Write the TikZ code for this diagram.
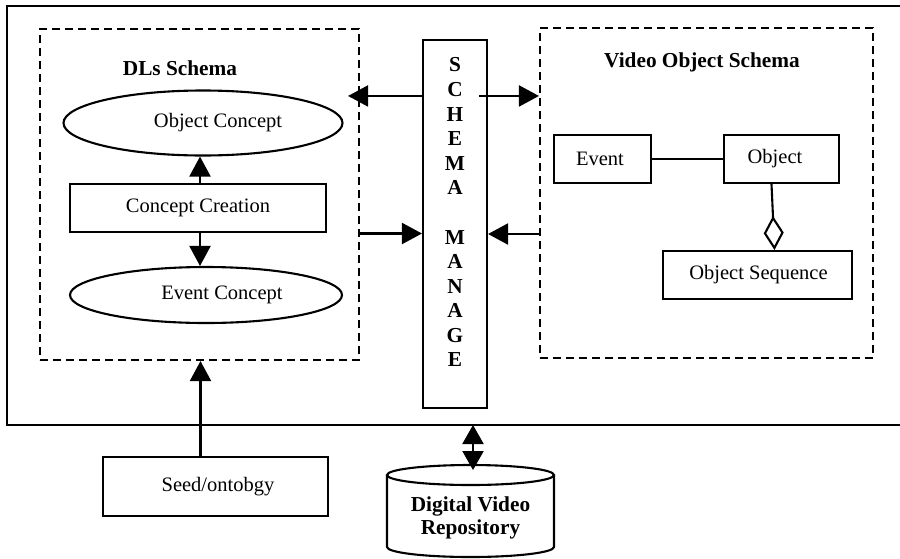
\documentclass[tikz,border=0pt]{standalone}
\usepackage{fontspec}
\setmainfont{Liberation Serif}
\usetikzlibrary{arrows.meta,shapes.geometric}
\begin{document}
\begin{tikzpicture}[x=1pt,y=-1pt,
  lw/.style={line width=2.1pt},
  rbox/.style={draw,lw,rectangle,inner sep=0pt},
  ell/.style={draw,lw,ellipse,inner sep=0pt},
  dbox/.style={draw,lw,dash pattern=on 8pt off 5pt,inner sep=0pt},
  txt/.style={font=\fontsize{20.5}{24}\selectfont,inner sep=0pt},
  btxt/.style={font=\bfseries\fontsize{21.3}{23}\selectfont,inner sep=0pt},
  arr/.style={lw,-{Triangle[length=20pt,width=21pt]}},
  darr/.style={lw,{Triangle[length=19pt,width=21pt]}-{Triangle[length=19pt,width=21pt]}}]
\useasboundingbox (0,0) rectangle (900,558);

% outer frame (open to the right)
\draw[lw] (905,6) -- (7,6) -- (7,425) -- (905,425);
\coordinate (fb) at (473,425);

% DLs schema
\node[dbox,minimum width=319pt,minimum height=331pt] (dls) at (199.5,194.5) {};
\node[btxt] (dlst) at (180,68) {DLs Schema};
\node[ell,minimum width=279pt,minimum height=65pt] (oc) at (203,123) {};
\node[txt] (oct) at (218,123) {Object Concept};
\node[rbox,minimum width=256pt,minimum height=48pt] (cc) at (198,208) {};
\node[txt] (cct) at (198,208) {Concept Creation};
\node[ell,minimum width=272pt,minimum height=56pt] (ec) at (206,295) {};
\node[txt] (ect) at (222,295) {Event Concept};

\draw[arr] ([xshift=2pt]cc.north) -- ([xshift=2pt]cc.north |- oc.south);
\draw[arr] ([xshift=2pt]cc.south) -- ([xshift=2pt]cc.south |- ec.north);

% seed
\node[rbox,minimum width=225pt,minimum height=59pt] (seed) at (215.5,486.5) {};
\node[txt] (seedt) at (218,487) {Seed/ontobgy};
\draw[arr] ([xshift=-15pt]seed.north) -- ([xshift=-15pt]seed.north |- dls.south);

% schema manage
\node[rbox,minimum width=64pt,minimum height=368pt] (sm) at (455,224) {};
\foreach \l [count=\i] in {S,C,H,E,M,A,,M,A,N,A,G,E}
  \node[btxt] (L\i) at (455,{65+(\i-1)*24.58}) {\l};

% video object schema
\node[dbox,minimum width=333pt,minimum height=330pt] (vos) at (706.5,193) {};
\node[btxt] (vost) at (702,62) {Video Object Schema};
\node[rbox,minimum width=97pt,minimum height=48pt] (ev) at (602.5,159) {};
\node[txt] (evt) at (600,159) {Event};
\node[rbox,minimum width=115pt,minimum height=48pt] (ob) at (781.5,159) {};
\node[txt] (obt) at (775,159) {Object};
\node[rbox,minimum width=189pt,minimum height=48pt] (seq) at (757.5,275) {};
\node[txt] (seqt) at (758.5,275) {Object Sequence};
\draw[lw] (ev) -- (ob);
\draw[lw,-{Diamond[open,length=34pt,width=20pt]}] ([xshift=-10pt]ob.south) -- ([xshift=17pt]seq.north);

% connections to schema manage
\draw[arr] ([yshift=-57pt]sm.north west) -- ([yshift=-57pt,xshift=-12pt]sm.north west -| dls.east);
\draw[arr] ([yshift=-57pt,xshift=-9pt]sm.north east) -- ([yshift=-57pt]sm.north east -| vos.west);
\draw[arr] ([yshift=-39pt]dls.east) -- ([yshift=-39pt]dls.east -| sm.west);
\draw[arr] ([yshift=-41pt]vos.west) -- ([yshift=-41pt]vos.west -| sm.east);

% repository
\draw[lw,fill=white] (387,475) -- (387,547) arc[start angle=180,end angle=360,x radius=83.5pt,y radius=10pt] -- (554,475);
\draw[lw] (470.5,475) ellipse[x radius=83.5pt,y radius=10pt];
\node[btxt,align=center] (repo) at (470.5,518) {Digital Video\\Repository};
\coordinate (cyltop) at (473,470);
\draw[darr] (fb) -- (cyltop);
\end{tikzpicture}
\end{document}
